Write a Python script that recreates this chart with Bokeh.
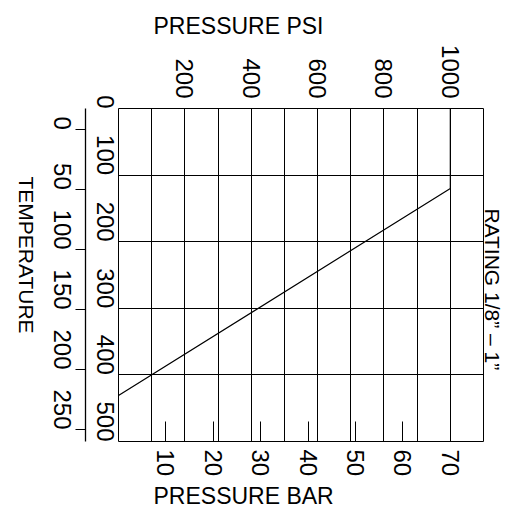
import math
from bokeh.plotting import figure
from bokeh.models import Range1d, LinearAxis, FixedTicker, Title
from bokeh.embed import file_html
from bokeh.resources import INLINE

# ---- data ----
psi_ticks = [200, 400, 600, 800, 1000]
psi_grid = [100, 200, 300, 400, 500, 600, 700, 800, 900, 1000]
temp_f_ticks = [0, 100, 200, 300, 400, 500]
temp_c_ticks = [0, 50, 100, 150, 200, 250]
bar_ticks = [10, 20, 30, 40, 50, 60, 70]
rating_psi = [0, 1000, 1000]
rating_temp_f = [431, 120, 0]

PSI_MAX = 1100
F_MIN, F_MAX = 0, 500
BAR_AT_1000_PSI = 70  # chart's own bar scale: 70 bar drawn at 1000 psi

# caption anchors (layout only), in °F along the side
TEMP_TITLE_AT = 338  # end of "TEMPERATURE"
RATING_AT = 150      # start of the rating caption

FONT = "Liberation Sans"
TICK_FS = "24px"
ROT = -math.pi / 2


def f_to_c(f):
    return (f - 32) * 5 / 9


p = figure(width=518, height=509,
           x_range=Range1d(0, PSI_MAX), y_range=Range1d(F_MAX, F_MIN),
           x_axis_location="above",
           output_backend="svg", toolbar_location=None,
           min_border_left=115, min_border_right=35,
           min_border_top=108, min_border_bottom=65)
p.extra_x_ranges = {"bar": Range1d(0, PSI_MAX * BAR_AT_1000_PSI / 1000)}
p.extra_y_ranges = {"c": Range1d(f_to_c(F_MAX), f_to_c(F_MIN))}

p.background_fill_color = "white"
p.border_fill_color = "white"
p.outline_line_color = "black"
p.outline_line_width = 1

# grid
p.xgrid.ticker = FixedTicker(ticks=psi_grid)
p.ygrid.ticker = FixedTicker(ticks=temp_f_ticks)
for g in (p.xgrid, p.ygrid):
    g.grid_line_color = "black"
    g.grid_line_alpha = 1
    g.grid_line_width = 1


def style(ax, size=TICK_FS, show_line=False, show_ticks=False):
    ax.major_label_text_font = FONT
    ax.major_label_text_font_size = size
    ax.major_label_text_color = "black"
    ax.major_label_orientation = ROT
    ax.minor_tick_line_color = None
    ax.minor_tick_in = 0
    ax.minor_tick_out = 0
    if not show_line:
        ax.axis_line_color = None
    if not show_ticks:
        ax.major_tick_line_color = None
        ax.major_tick_out = 0
        ax.major_tick_in = 0


# top psi axis
ax_top = p.xaxis[0]
ax_top.ticker = FixedTicker(ticks=psi_ticks)
ax_top.major_label_standoff = 10
style(ax_top)

# left: °F labels (nearest the frame)
ax_f = p.yaxis[0]
ax_f.ticker = FixedTicker(ticks=temp_f_ticks)
ax_f.major_label_standoff = 13
style(ax_f)

# °C axis
ax_c = LinearAxis(y_range_name="c", ticker=FixedTicker(ticks=temp_c_ticks))
style(ax_c, show_line=True, show_ticks=True)
ax_c.axis_line_color = "black"
ax_c.axis_line_width = 1.3
ax_c.major_tick_line_color = "black"
ax_c.major_tick_line_width = 1.2
ax_c.major_tick_in = 0
ax_c.major_tick_out = 10
ax_c.major_label_standoff = 13
p.add_layout(ax_c, "left")

# TEMPERATURE caption
ax_t = LinearAxis(ticker=FixedTicker(ticks=[TEMP_TITLE_AT]),
                  major_label_overrides={TEMP_TITLE_AT: "TEMPERATURE"})
style(ax_t, size="21px")
ax_t.major_label_standoff = 16
p.add_layout(ax_t, "left")

# right: rating caption
ax_r = LinearAxis(ticker=FixedTicker(ticks=[RATING_AT]),
                  major_label_overrides={RATING_AT: "RATING 1/8\u201d \u2013 1\u201d"})
style(ax_r, size="21px")
ax_r.major_label_standoff = 9
p.add_layout(ax_r, "right")

# bottom bar axis
ax_bar = LinearAxis(x_range_name="bar", ticker=FixedTicker(ticks=bar_ticks))
style(ax_bar, show_ticks=True)
ax_bar.major_tick_line_color = "black"
ax_bar.major_tick_in = 20
ax_bar.major_tick_out = 0
ax_bar.major_label_standoff = 8
p.add_layout(ax_bar, "below")

# axis titles
p.add_layout(Title(text="PRESSURE PSI", align="left", offset=35, standoff=7,
                   text_font=FONT, text_font_size="23px",
                   text_font_style="normal", text_color="black"), "above")
p.add_layout(Title(text="PRESSURE BAR", align="left", offset=35, standoff=2,
                   text_font=FONT, text_font_size="23px",
                   text_font_style="normal", text_color="black"), "below")

# rating curve
p.line(rating_psi, rating_temp_f, line_color="black", line_width=1.2)

open("out.html", "w").write(file_html(p, INLINE))
